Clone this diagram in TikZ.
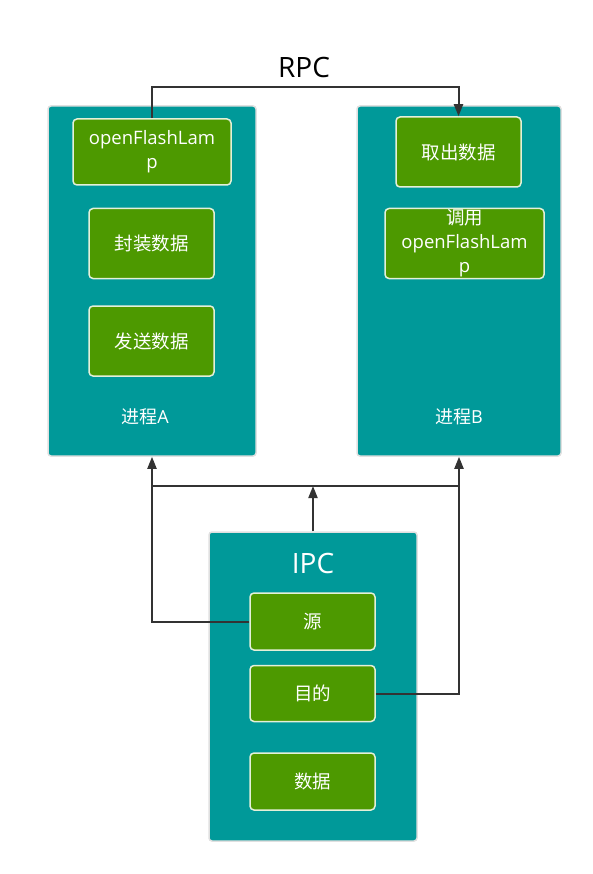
\documentclass[tikz,border=0pt]{standalone}
\usepackage{fontspec}
\setmainfont{Open Sans}
\newfontfamily\cjk{Noto Sans CJK SC}
\usetikzlibrary{arrows.meta,positioning}
\definecolor{procteal}{HTML}{009999}
\definecolor{stepgreen}{HTML}{4D9900}
\definecolor{wire}{HTML}{333333}

\begin{document}
\begin{tikzpicture}[x=1pt, y=-1pt,
  proc/.style={rectangle, rounded corners=3pt, draw=black!12, line width=1.5pt, fill=procteal},
  stepbox/.style={rectangle, rounded corners=4pt, draw=white!85!stepgreen, line width=1.5pt, fill=stepgreen,
    text=white, font=\fontsize{18.5}{24}\selectfont, align=center, inner sep=0pt},
  caption/.style={text=white, font=\fontsize{18}{22}\selectfont},
  wired/.style={draw=wire, line width=2pt},
  arr/.style={wired, -{Triangle[width=9pt,length=12pt]}}]
\useasboundingbox (0,0) rectangle (593,874);

\node (procA) [proc, minimum width=208pt, minimum height=350pt] at (152,281) {};
\node (procB) [proc, minimum width=204pt, minimum height=350pt] at (459,281) {};
\node (ipc) [proc, minimum width=208pt, minimum height=309pt] at (313,686.5) {};

\node (open) [stepbox, minimum width=158pt, minimum height=66pt] at (152,152) {openFlashLam\\p};
\node (seal) [stepbox, below=22pt of open, minimum width=125pt, minimum height=70pt, xshift=-0.5pt] {\cjk 封装数据};
\node (send) [stepbox, below=26pt of seal, minimum width=125pt, minimum height=70pt] {\cjk 发送数据};
\node (labelA) [caption] at (145,417) {{\cjk 进程}A};

\node (fetch) [stepbox, minimum width=125pt, minimum height=70pt] at (458.5,152) {\cjk 取出数据};
\node (call) [stepbox, below=20pt of fetch, minimum width=159pt, minimum height=70pt, xshift=6pt] {{\cjk 调用}\\openFlashLam\\p};
\node (labelB) [caption] at (459,417) {{\cjk 进程}B};

\node (ipclabel) [text=white, font=\fontsize{28}{30}\selectfont] at (313,563) {IPC};
\node (src) [stepbox, minimum width=125pt, minimum height=57pt] at (312.5,621.5) {\cjk 源};
\node (dst) [stepbox, below=14pt of src, minimum width=125pt, minimum height=56pt] {\cjk 目的};
\node (data) [stepbox, below=30pt of dst, minimum width=125pt, minimum height=57pt] {\cjk 数据};

\node (rpc) [font=\fontsize{28}{30}\selectfont, text=black] at (304,68) {RPC};

\coordinate (busL) at (152,486);
\coordinate (busR) at (459,486);

\draw [arr] (open.north) -- ++(0,-31) -| (fetch.north);
\draw [arr] (src.west) -| (procA.south);
\draw [arr] (dst.east) -| (procB.south);
\draw [wired] (busL) -- (busR);
\draw [arr] (ipc.north) -- (ipc.north |- busL);
\end{tikzpicture}
\end{document}
